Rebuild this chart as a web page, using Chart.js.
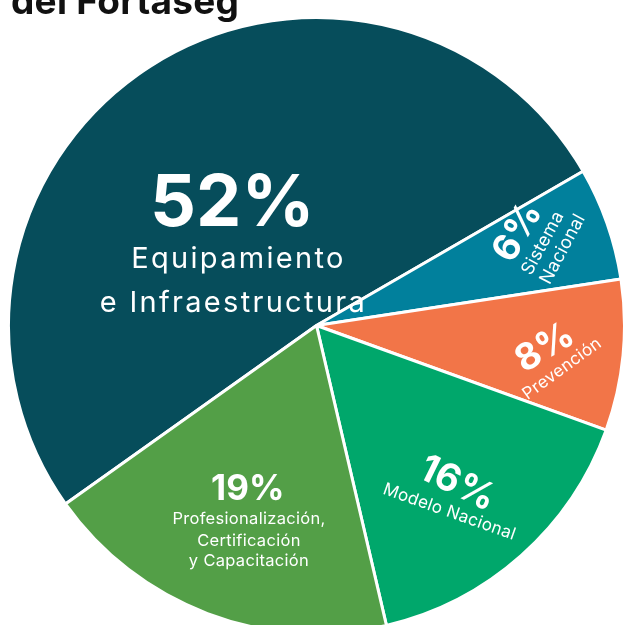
<!DOCTYPE html>
<html>
<head>
<meta charset="utf-8">
<script src="https://cdn.jsdelivr.net/npm/chart.js@4.4.0/dist/chart.umd.min.js"></script>
<style>
  html, body { margin: 0; padding: 0; background: #fff; overflow: hidden; width: 626px; height: 625px; }
  #pie { position: absolute; left: 7px; top: 16px; }
  #title {
    position: absolute; left: 11px; top: -18px;
    font: 700 37px Inter, sans-serif; line-height: 37px; color: #111;
    letter-spacing: 0.3px; white-space: nowrap;
  }
</style>
</head>
<body>
<canvas id="pie" width="619" height="619"></canvas>
<div id="title">del Fortaseg</div>
<script>
// slices, clockwise starting with the big one
const categories = [
  ['Equipamiento', 'e Infraestructura'],
  ['Sistema', 'Nacional'],
  ['Prevención'],
  ['Modelo Nacional'],
  ['Profesionalización,', 'Certificación', 'y Capacitación']
];
const shares = [52, 6, 8, 16, 19];
const colors = ['#064d5b', '#01809c', '#f27548', '#00a76b', '#539f47'];

// where the text sits inside each slice (relative to the slice bisector)
const labelStyle = [
  { dist: 0.48, shift: -2, pct: { size: 72, rot: 0 }, nameSize: 29, nameSpacing: 2.3,
    lines: [{ dx: 5, dy: 55.5, rot: 0 }, { dx: 0, dy: 99.5, rot: 0 }] },
  { dist: 0.72, shift: -5.5, pct: { size: 37, rot: -60 }, nameSize: 18, nameSpacing: 0.3,
    lines: [{ dx: 25, dy: 11, rot: -61.5 }, { dx: 45, dy: 17, rot: -62 }] },
  { dist: 0.745, shift: 0, pct: { size: 37, rot: -31 }, nameSize: 17, nameSpacing: 0.3,
    lines: [{ dx: 17, dy: 21, rot: -36 }] },
  { dist: 0.688, shift: 0, pct: { size: 38, rot: 26 }, nameSize: 17, nameSpacing: 0.3,
    lines: [{ dx: -8, dy: 28, rot: 19.5 }] },
  { dist: 0.577, shift: 2, pct: { size: 35, rot: 0 }, nameSize: 16.5, nameSpacing: 0.3,
    lines: [{ dx: 1, dy: 29.5, rot: 0 }, { dx: 1, dy: 51.5, rot: 0 }, { dx: 1, dy: 72, rot: 0 }] }
];

function drawText(ctx, text, x, y, rot, font, spacing) {
  ctx.save();
  ctx.translate(x, y);
  ctx.rotate(rot * Math.PI / 180);
  ctx.font = font;
  ctx.letterSpacing = spacing + 'px';
  ctx.fillText(text, spacing / 2, 0);
  ctx.restore();
}

const sliceLabels = {
  id: 'sliceLabels',
  afterDatasetsDraw(chart) {
    const ctx = chart.ctx;
    const meta = chart.getDatasetMeta(0);
    ctx.save();
    ctx.fillStyle = '#fff';
    ctx.textAlign = 'center';
    ctx.textBaseline = 'middle';
    meta.data.forEach((arc, i) => {
      const p = arc.getProps(['x', 'y', 'startAngle', 'endAngle', 'outerRadius'], true);
      const st = labelStyle[i];
      const a = (p.startAngle + p.endAngle) / 2 + st.shift * Math.PI / 180;
      const ax = p.x + Math.cos(a) * p.outerRadius * st.dist;
      const ay = p.y + Math.sin(a) * p.outerRadius * st.dist;
      drawText(ctx, shares[i] + '%', ax, ay, st.pct.rot, '700 ' + st.pct.size + 'px Inter', 0);
      categories[i].forEach((line, j) => {
        const l = st.lines[j];
        drawText(ctx, line, ax + l.dx, ay + l.dy, l.rot, '400 ' + st.nameSize + 'px Inter', st.nameSpacing);
      });
    });
    ctx.restore();
  }
};

new Chart(document.getElementById('pie').getContext('2d'), {
  type: 'pie',
  data: {
    labels: categories.map(c => c.join(' ')),
    datasets: [{
      data: shares,
      backgroundColor: colors,
      borderColor: '#ffffff',
      borderWidth: 3
    }]
  },
  options: {
    responsive: false,
    animation: false,
    rotation: 234.6,
    layout: { padding: 0 },
    plugins: {
      legend: { display: false },
      tooltip: { enabled: false }
    }
  },
  plugins: [sliceLabels]
});
</script>
</body>
</html>
